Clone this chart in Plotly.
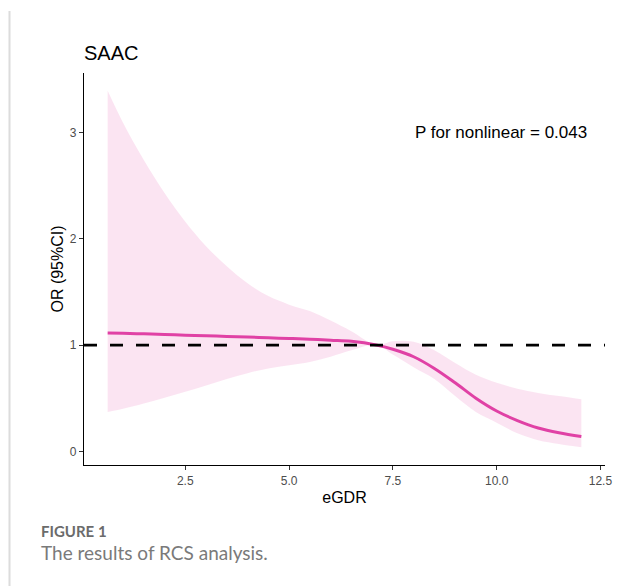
import plotly.graph_objects as go

# Data
egdr = [0.63, 1.0, 1.5, 2.0, 2.5, 3.0, 3.5, 4.0, 4.5, 5.0, 5.5, 6.0, 6.5,
        7.1, 7.5, 8.0, 8.5, 9.0, 9.5, 10.0, 10.5, 11.0, 11.5, 12.04]
or_fit = [1.113, 1.11, 1.105, 1.10, 1.093, 1.088, 1.08, 1.075, 1.068, 1.062,
          1.055, 1.045, 1.035, 1.0, 0.96, 0.89, 0.78, 0.645, 0.50, 0.38,
          0.29, 0.22, 0.175, 0.14]
ci_upper = [3.39, 3.09, 2.74, 2.43, 2.16, 1.93, 1.74, 1.58, 1.46, 1.38,
            1.32, 1.23, 1.13, 1.0, 1.035, 1.03, 0.95, 0.83, 0.72, 0.645,
            0.59, 0.55, 0.52, 0.49]
ci_lower = [0.37, 0.40, 0.45, 0.505, 0.56, 0.62, 0.68, 0.735, 0.78, 0.81,
            0.84, 0.89, 0.95, 1.0, 0.91, 0.79, 0.68, 0.52, 0.37, 0.27,
            0.17, 0.105, 0.07, 0.04]
x_ticks = [2.5, 5.0, 7.5, 10.0, 12.5]
x_tick_labels = ["2.5", "5.0", "7.5", "10.0", "12.5"]
y_ticks = [0, 1, 2, 3]
ref_value = 1
title_text = "SAAC"
p_text = "P for nonlinear = 0.043"

LINE = "#E041A5"
FILL = "rgba(224,65,165,0.14)"
FONT = "Liberation Sans, Arial, sans-serif"
CAP_FONT = "Lato, Open Sans, sans-serif"

# the page body adds an 8px offset; work in reference-window pixels
OFF = 8
W, H = 641 - OFF, 586 - OFF
L, R, T, B = 84, 605, 73, 465  # plot area in window pixels
pw, ph = R - L, B - T


def px(x):
    return (x - L) / pw


def py(y):
    return (B - y) / ph


fig = go.Figure()
fig.add_trace(go.Scatter(x=egdr, y=ci_lower, mode="lines", line=dict(width=0, shape="spline"),
                         hoverinfo="skip", showlegend=False))
fig.add_trace(go.Scatter(x=egdr, y=ci_upper, mode="lines", line=dict(width=0, shape="spline"),
                         fill="tonexty", fillcolor=FILL, hoverinfo="skip", showlegend=False))
fig.add_hline(y=ref_value, line=dict(color="black", width=2.8, dash="13px,13px"))
fig.add_trace(go.Scatter(x=egdr, y=or_fit, mode="lines",
                         line=dict(color=LINE, width=3, shape="spline"), showlegend=False))

fig.update_layout(
    width=W, height=H,
    margin=dict(l=L - OFF, r=641 - R, t=T - OFF, b=586 - B, pad=0),
    paper_bgcolor="white", plot_bgcolor="white",
    font=dict(family=FONT, color="black"),
    xaxis=dict(range=[0.06, 12.61], tickvals=x_ticks, ticktext=x_tick_labels,
               showgrid=False, zeroline=False, showline=True, linecolor="black", linewidth=1.3,
               ticks="outside", ticklen=4, tickcolor="#333333", tickwidth=1,
               tickfont=dict(size=12, color="#4d4d4d", family=FONT),
               title=dict(text="eGDR", font=dict(size=16, color="black"), standoff=5)),
    yaxis=dict(range=[-0.128, 3.558], tickvals=y_ticks,
               showgrid=False, zeroline=False, showline=True, linecolor="black", linewidth=1.3,
               ticks="outside", ticklen=4, tickcolor="#333333", tickwidth=1,
               tickfont=dict(size=12, color="#4d4d4d", family=FONT),
               title=dict(text="OR (95%CI)", font=dict(size=16, color="black"), standoff=2)),
    annotations=[
        dict(text=title_text, xref="paper", yref="paper", x=px(82), y=py(53),
             xanchor="left", yanchor="middle", showarrow=False,
             font=dict(size=20, color="black", family=FONT)),
        dict(text=p_text, xref="paper", yref="paper", x=px(501), y=py(133),
             xanchor="center", yanchor="middle", showarrow=False,
             font=dict(size=17, color="black", family=FONT)),
        dict(text="<b>FIGURE 1</b>", xref="paper", yref="paper", x=px(39), y=py(531),
             xanchor="left", yanchor="middle", showarrow=False,
             font=dict(size=15, color="#6b6b6b", family=CAP_FONT)),
        dict(text="The results of RCS analysis.", xref="paper", yref="paper", x=px(39), y=py(552),
             xanchor="left", yanchor="middle", showarrow=False,
             font=dict(size=19, color="#7a7a7a", family=CAP_FONT)),
    ],
    shapes=[
        dict(type="line", xref="paper", yref="paper", x0=px(9.5), x1=px(645), y0=py(11), y1=py(11),
             line=dict(color="#dcdcdc", width=2)),
        dict(type="line", xref="paper", yref="paper", x0=px(9.5), x1=px(9.5), y0=py(11), y1=py(590),
             line=dict(color="#dcdcdc", width=2)),
    ],
)

fig.write_html("out.html")
